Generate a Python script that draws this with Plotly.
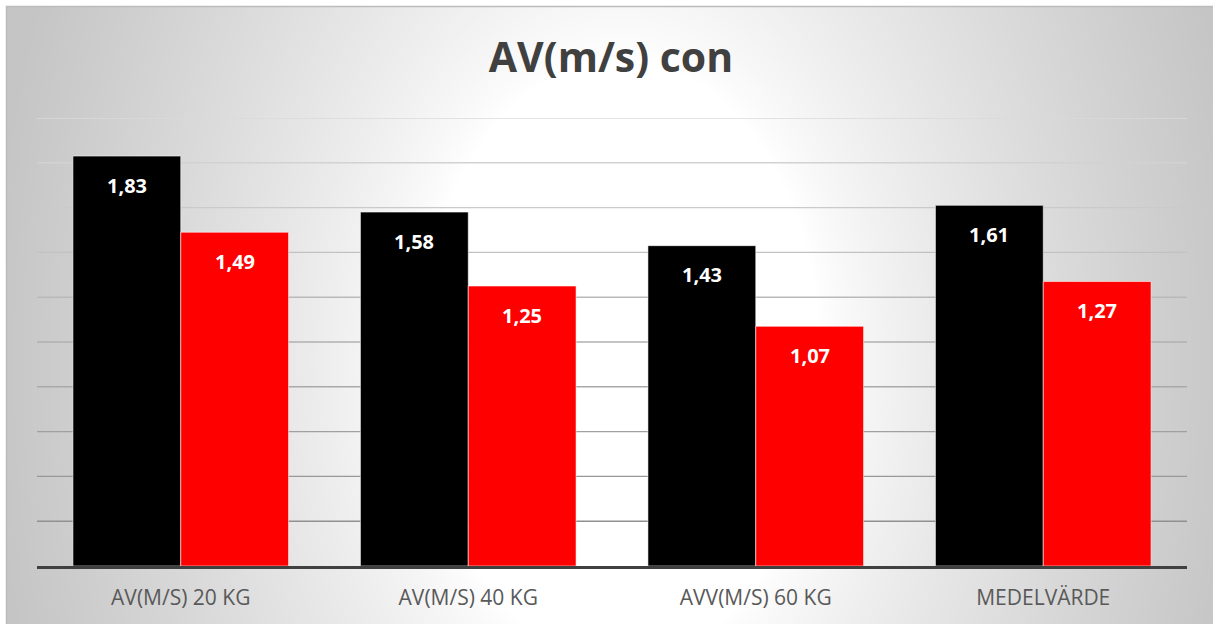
import base64
import struct
import zlib

import numpy as np
import plotly.graph_objects as go

# ---- data -------------------------------------------------------------
categories = ["AV(M/S) 20 KG", "AV(M/S) 40 KG", "AVV(M/S) 60 KG", "MEDELVÄRDE"]
series_black = [1.83, 1.58, 1.43, 1.61]
series_red = [1.49, 1.25, 1.07, 1.27]
grid_values = [0.2, 0.4, 0.6, 0.8, 1.0, 1.2, 1.4, 1.6, 1.8, 2.0]
title_text = "AV(m/s) con"

# ---- geometry ---------------------------------------------------------
W, H = 1213, 624
ML, MR, MT, MB = 37, 26, 118, 58
PW, PH = W - ML - MR, H - MT - MB


def px_x(px):
    return (px - ML) / PW


def px_y(py):
    return (H - MB - py) / PH


def fmt(v):
    return f"{v:.2f}".replace(".", ",")


# ---- radial grey background (white centre, grey edges) ----------------
def png_gray(arr):
    h, w = arr.shape
    raw = b"".join(b"\x00" + arr[i].tobytes() for i in range(h))

    def chunk(tag, data):
        c = struct.pack(">I", len(data)) + tag + data
        return c + struct.pack(">I", zlib.crc32(tag + data) & 0xFFFFFFFF)

    ihdr = struct.pack(">IIBBBBB", w, h, 8, 0, 0, 0, 0)
    return (b"\x89PNG\r\n\x1a\n" + chunk(b"IHDR", ihdr)
            + chunk(b"IDAT", zlib.compress(raw, 9)) + chunk(b"IEND", b""))


BX0, BY0 = 6, 6
bw, bh = W - BX0, H - BY0
yy, xx = np.mgrid[0:bh, 0:bw].astype(float)
xx += BX0
yy += BY0
dist = np.sqrt((xx - 620.0) ** 2 + ((yy - 360.0) / 1.5) ** 2)
t = np.clip((dist - 200.0) / 430.0, 0.0, 1.0)
shade = (255.0 - 58.0 * t ** 0.8).round().astype(np.uint8)
bg_uri = "data:image/png;base64," + base64.b64encode(png_gray(shade)).decode()

# ---- figure -----------------------------------------------------------
fig = go.Figure()
fig.add_trace(go.Bar(
    x=categories, y=series_black, name="black",
    marker=dict(color="#000000", line=dict(color="rgba(255,255,255,0.55)", width=1)),
    hoverinfo="skip",
))
fig.add_trace(go.Bar(
    x=categories, y=series_red, name="red",
    marker=dict(color="#ff0000", line=dict(color="rgba(255,255,255,0.55)", width=1)),
    hoverinfo="skip",
))

# value labels inside the top of each bar
annotations = []
for series, shift in ((series_black, -54), (series_red, 54)):
    for cat, v in zip(categories, series):
        annotations.append(dict(
            x=cat, y=v, xref="x", yref="y", text=fmt(v), showarrow=False,
            xshift=shift, yshift=-29, yanchor="middle",
            font=dict(family="Open Sans", size=20, color="#ffffff", weight="bold"),
        ))

# gridlines, growing darker towards the baseline
shapes = []
n = len(grid_values)
for i, gv in enumerate(grid_values):
    frac = i / (n - 1)
    g = int(round(0x90 + (0xDA - 0x90) * frac))
    shapes.append(dict(
        type="line", xref="paper", yref="y", x0=0, x1=1, y0=gv, y1=gv,
        line=dict(color=f"rgb({g},{g},{g})", width=1.4), layer="below",
    ))
# chart border
shapes.append(dict(
    type="rect", xref="paper", yref="paper",
    x0=px_x(BX0 + 0.5), x1=px_x(W + 5), y0=px_y(BY0 + 0.5), y1=px_y(H + 5),
    line=dict(color="#bcbcbc", width=1.5), fillcolor="rgba(0,0,0,0)", layer="below",
))

fig.update_layout(
    width=W, height=H,
    margin=dict(l=ML, r=MR, t=MT, b=MB, pad=0, autoexpand=False),
    paper_bgcolor="#ffffff",
    plot_bgcolor="rgba(0,0,0,0)",
    barmode="group", bargap=0.25, bargroupgap=0,
    showlegend=False,
    separators=",.",
    title=dict(
        text=title_text, x=611 / W, xref="container", xanchor="center",
        y=1 - 58 / H, yref="container", yanchor="middle",
        font=dict(family="Open Sans", size=41, color="#404040", weight="bold"),
    ),
    images=[dict(
        source=bg_uri, xref="paper", yref="paper",
        x=px_x(BX0), y=px_y(BY0), sizex=bw / PW, sizey=bh / PH,
        xanchor="left", yanchor="top", sizing="stretch", layer="below",
    )],
    shapes=shapes,
    annotations=annotations,
    xaxis=dict(
        automargin=False,
        showgrid=False, zeroline=False,
        showline=True, linecolor="#404040", linewidth=3,
        ticks="", ticklabelstandoff=11,
        tickfont=dict(family="Open Sans", size=21, color="#595959"),
    ),
    yaxis=dict(
        automargin=False,
        range=[0, 2.0], showgrid=False, zeroline=False, showline=False,
        showticklabels=False, ticks="",
    ),
)

fig.write_html("out.html")
